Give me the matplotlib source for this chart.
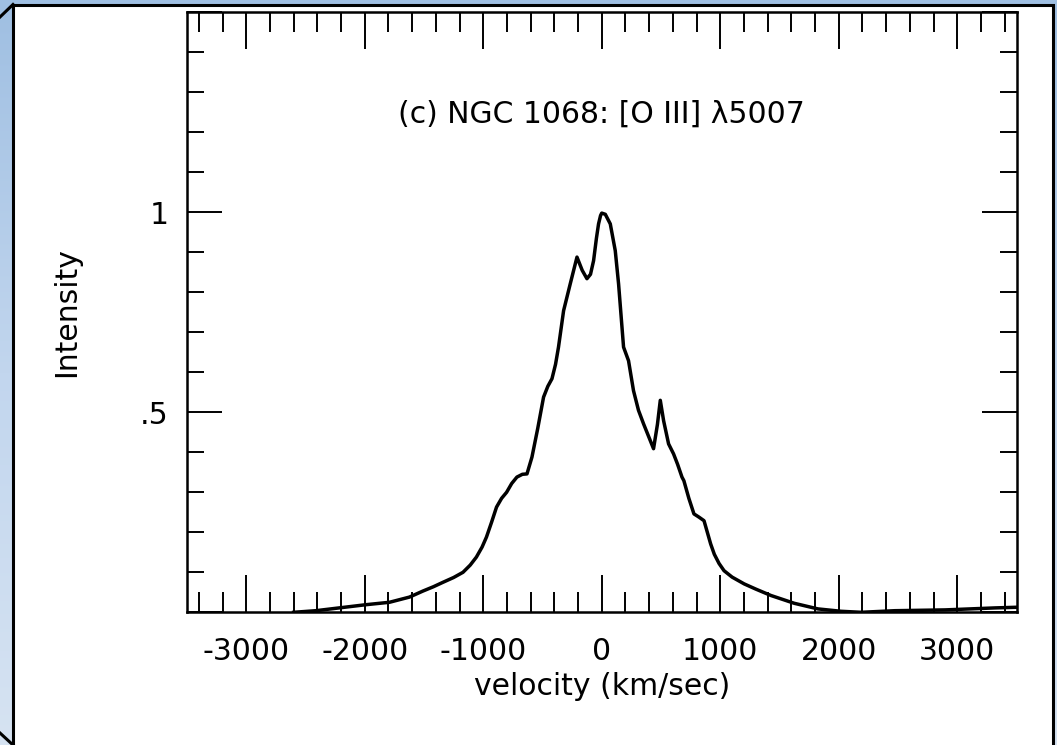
import numpy as np
import matplotlib
matplotlib.use('Agg')
import matplotlib.pyplot as plt
from matplotlib.ticker import MultipleLocator, FixedLocator
from matplotlib.patches import Rectangle
from matplotlib.lines import Line2D
from matplotlib.colors import LinearSegmentedColormap

# ---- data ----
velocity = [-2600, -2413, -2216, -1990, -1792, -1623, -1510, -1420, -1340, -1250,
            -1171, -1110, -1058, -1010, -973, -930, -888, -845, -803, -760,
            -716, -670, -631, -589, -540, -491, -455, -420, -390, -365,
            -322, -266, -209, -165, -125, -95, -69, -45, -27, -10,
            0, 30, 72, 114, 142, 184, 226, 268, 310, 353,
            437, 470, 494, 522, 564, 606, 640, 677, 693, 735,
            778, 820, 863, 919, 950, 990, 1032, 1100, 1202, 1300,
            1428, 1625, 1824, 2021, 2190, 2473, 2897, 3320, 3490]
intensity = [0.0, 0.004, 0.011, 0.019, 0.025, 0.038, 0.053, 0.064, 0.075, 0.087,
             0.100, 0.118, 0.138, 0.163, 0.188, 0.225, 0.263, 0.285, 0.300, 0.322,
             0.338, 0.345, 0.346, 0.388, 0.460, 0.538, 0.565, 0.584, 0.620, 0.663,
             0.754, 0.821, 0.888, 0.855, 0.834, 0.845, 0.879, 0.935, 0.971, 0.992,
             0.998, 0.995, 0.971, 0.904, 0.821, 0.663, 0.629, 0.554, 0.505, 0.471,
             0.409, 0.470, 0.530, 0.479, 0.421, 0.396, 0.370, 0.338, 0.329, 0.285,
             0.246, 0.238, 0.229, 0.171, 0.145, 0.122, 0.104, 0.088, 0.071, 0.058,
             0.042, 0.0225, 0.0085, 0.0025, 0.0, 0.004, 0.006, 0.011, 0.0125]

x_major_ticks = [-3000, -2000, -1000, 0, 1000, 2000, 3000]
x_tick_labels = ['-3000', '-2000', '-1000', '0', '1000', '2000', '3000']
y_major_ticks = [0, 0.5, 1.0, 1.5]
y_tick_labels = ['', '.5', '1', '']
title_text = '(c) NGC 1068: [O III] λ5007'
x_label = 'velocity (km/sec)'
y_label = 'Intensity'

W, H = 1057, 745
FS = 21.5

fig = plt.figure(figsize=(W / 100, H / 100), dpi=100)
fig.patch.set_facecolor('#b5cde9')

# sky-like background
bg = fig.add_axes([0, 0, 1, 1], zorder=-10)
grad = np.linspace(0, 1, 256).reshape(-1, 1)
cmap = LinearSegmentedColormap.from_list('sky', ['#9fbfe2', '#c2d6ee', '#d6e3f2'])
bg.imshow(grad, aspect='auto', cmap=cmap, extent=[0, 1, 0, 1])
bg.axis('off')

# white framed panel
panel = Rectangle((13 / W, -0.02), (1053 - 13) / W, (745 - 4.5) / H + 0.02,
                  transform=fig.transFigure, facecolor='white', edgecolor='black',
                  lw=2.2, zorder=-5)
fig.add_artist(panel)
fig.add_artist(Line2D([0, 13 / W], [1 - 17 / H, 1 - 4.5 / H], transform=fig.transFigure,
                      color='black', lw=2.2, zorder=-4))
fig.add_artist(Line2D([0, 13 / W], [12 / H, 0], transform=fig.transFigure,
                      color='black', lw=2.2, zorder=-4))

# main axes
left, right, top, bottom = 187, 1016.5, 12.3, 612.3
ax = fig.add_axes([left / W, (H - bottom) / H, (right - left) / W, (bottom - top) / H])
ax.set_facecolor('white')
ax.plot(velocity, intensity, color='black', lw=2.5, solid_joinstyle='round')

ax.set_xlim(-3500, 3500)
ax.set_ylim(0, 1.5)
ax.xaxis.set_major_locator(FixedLocator(x_major_ticks))
ax.set_xticklabels(x_tick_labels)
ax.xaxis.set_minor_locator(MultipleLocator(200))
ax.yaxis.set_major_locator(FixedLocator(y_major_ticks))
ax.set_yticklabels(y_tick_labels)
ax.yaxis.set_minor_locator(MultipleLocator(0.1))

ax.tick_params(which='both', direction='in', top=True, right=True, width=1.4,
               labelsize=FS, color='black')
ax.tick_params(axis='x', which='major', length=26.5, pad=18)
ax.tick_params(axis='x', which='minor', length=14.4)
ax.tick_params(axis='y', which='major', length=25, pad=13)
ax.tick_params(axis='y', which='minor', length=12)
for s in ax.spines.values():
    s.set_linewidth(1.8)

ax.text(0, 1.225, title_text, ha='center', va='baseline', fontsize=FS)
ax.set_xlabel(x_label, fontsize=FS, labelpad=4)
ax.set_ylabel(y_label, fontsize=FS, va='center')
ax.yaxis.set_label_coords((66.7 - left) / (right - left), 0.5)

fig.savefig('out.png', dpi=100)
